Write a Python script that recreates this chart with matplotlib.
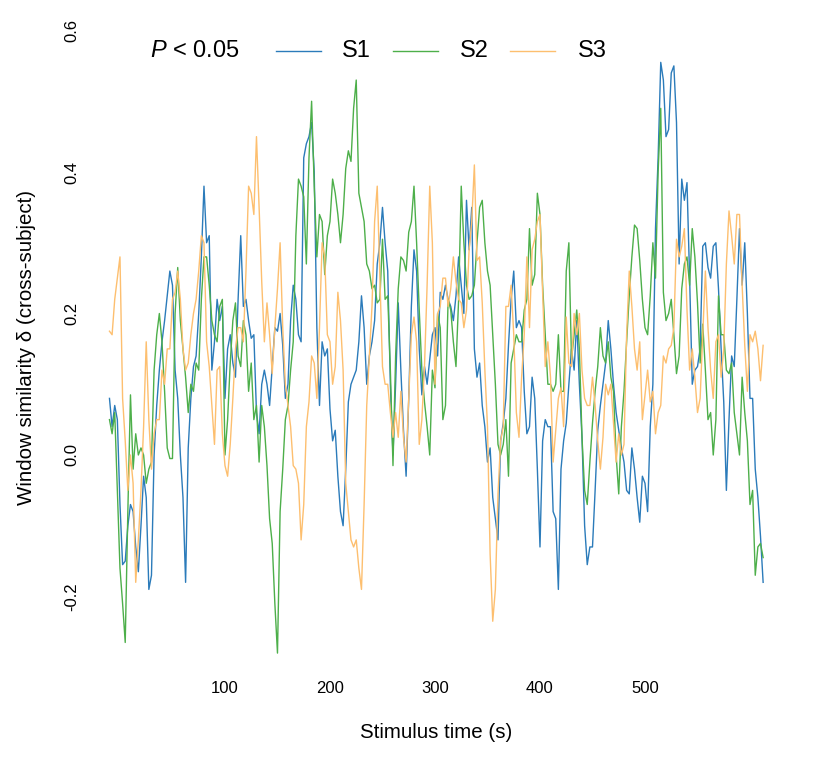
import numpy as np
import matplotlib
matplotlib.use("Agg")
import matplotlib.pyplot as plt
from matplotlib.lines import Line2D

plt.rcParams['font.family'] = ['Liberation Sans', 'DejaVu Sans']
plt.rcParams['mathtext.fontset'] = 'custom'
plt.rcParams['mathtext.it'] = 'Liberation Sans:italic'
plt.rcParams['mathtext.rm'] = 'Liberation Sans'

# window similarity per subject, every 2.5 s
s1 = [0.08, 0.04, 0.07, 0.05, -0.07, -0.155, -0.15, -0.10, -0.07, -0.08,
      -0.13, -0.165, -0.10, -0.03, -0.06, -0.19, -0.17, 0.0, 0.07, 0.12,
      0.16, 0.19, 0.225, 0.26, 0.24, 0.12, 0.08, 0.0, -0.06, -0.18,
      0.01, 0.08, 0.125, 0.14, 0.20, 0.28, 0.38, 0.30, 0.31, 0.12,
      0.16, 0.22, 0.19, 0.21, 0.08, 0.15, 0.17, 0.13, 0.11, 0.22,
      0.31, 0.21, 0.22, 0.19, 0.165, 0.17, 0.06, 0.03, 0.10, 0.12,
      0.10, 0.07, 0.125, 0.18, 0.175, 0.20, 0.155, 0.08, 0.10, 0.19,
      0.24, 0.22, 0.17, 0.16, 0.42, 0.44, 0.45, 0.47, 0.40, 0.18,
      0.07, 0.16, 0.14, 0.15, 0.065, 0.02, 0.035, -0.03, -0.08, -0.10,
      -0.02, 0.075, 0.10, 0.11, 0.12, 0.16, 0.225, 0.18, 0.10, 0.14,
      0.16, 0.19, 0.27, 0.30, 0.35, 0.30, 0.26, 0.10, 0.0, 0.10,
      0.215, 0.12, 0.035, -0.03, 0.08, 0.21, 0.29, 0.26, 0.15, 0.085,
      0.125, 0.10, 0.135, 0.17, 0.18, 0.14, 0.23, 0.22, 0.24, 0.22,
      0.21, 0.19, 0.225, 0.28, 0.24, 0.20, 0.36, 0.29, 0.35, 0.15,
      0.11, 0.13, 0.07, 0.04, -0.01, 0.01, -0.06, -0.09, -0.12, 0.02,
      0.045, 0.08, 0.155, 0.22, 0.26, 0.18, 0.19, 0.18, 0.09, 0.03,
      0.04, 0.11, 0.08, -0.02, -0.13, 0.02, 0.05, 0.04, 0.04, -0.08,
      -0.09, -0.19, -0.02, 0.02, 0.045, 0.10, 0.15, 0.12, 0.19, 0.10,
      0.025, -0.10, -0.155, -0.13, -0.13, -0.05, 0.035, 0.07, 0.10, 0.13,
      0.19, 0.15, 0.10, 0.06, 0.035, 0.01, -0.01, -0.05, -0.055, 0.01,
      -0.02, -0.06, -0.095, -0.03, -0.04, -0.08, 0.04, 0.10, 0.32, 0.42,
      0.555, 0.53, 0.45, 0.46, 0.54, 0.55, 0.47, 0.27, 0.39, 0.36,
      0.385, 0.25, 0.10, 0.12, 0.125, 0.15, 0.295, 0.30, 0.265, 0.25,
      0.295, 0.30, 0.235, 0.15, 0.075, -0.05, 0.05, 0.14, 0.125, 0.22,
      0.32, 0.24, 0.30, 0.20, 0.08, 0.08, -0.02, -0.06, -0.115, -0.18]
s2 = [0.05, 0.03, 0.06, -0.05, -0.16, -0.21, -0.265, -0.08, 0.085, -0.02,
      0.03, 0.0, 0.01, 0.0, -0.04, -0.02, -0.01, 0.12, 0.17, 0.20,
      0.16, 0.09, 0.01, -0.005, -0.005, 0.20, 0.265, 0.19, 0.15, 0.11,
      0.06, 0.10, 0.09, 0.13, 0.12, 0.22, 0.28, 0.28, 0.24, 0.19,
      0.17, 0.16, 0.21, 0.22, 0.0, 0.05, 0.13, 0.19, 0.215, 0.14,
      0.125, 0.19, 0.17, 0.09, 0.13, 0.05, 0.07, -0.01, 0.07, 0.04,
      -0.015, -0.09, -0.125, -0.21, -0.28, -0.08, -0.02, 0.05, 0.07, 0.12,
      0.16, 0.31, 0.39, 0.38, 0.365, 0.27, 0.42, 0.50, 0.38, 0.28,
      0.34, 0.33, 0.255, 0.31, 0.33, 0.39, 0.37, 0.34, 0.30, 0.34,
      0.405, 0.43, 0.415, 0.49, 0.53, 0.37, 0.35, 0.33, 0.27, 0.26,
      0.235, 0.24, 0.215, 0.22, 0.305, 0.22, 0.225, 0.12, -0.015, 0.14,
      0.235, 0.28, 0.275, 0.26, 0.315, 0.33, 0.38, 0.30, 0.205, 0.12,
      0.075, 0.04, 0.0, 0.12, 0.095, 0.20, 0.18, 0.05, 0.07, 0.22,
      0.205, 0.16, 0.125, 0.22, 0.38, 0.30, 0.24, 0.22, 0.225, 0.24,
      0.30, 0.35, 0.36, 0.30, 0.26, 0.24, 0.17, 0.10, 0.015, 0.0,
      0.015, 0.05, -0.03, 0.13, 0.15, 0.17, 0.16, 0.16, 0.205, 0.22,
      0.32, 0.24, 0.255, 0.37, 0.34, 0.24, 0.17, 0.10, 0.10, 0.09,
      0.10, 0.17, 0.09, 0.09, 0.26, 0.30, 0.135, 0.17, 0.205, 0.15,
      0.025, -0.05, -0.07, -0.01, 0.045, 0.09, 0.125, 0.18, 0.14, 0.13,
      0.16, 0.11, 0.09, 0.0, -0.055, 0.04, 0.09, 0.16, 0.225, 0.28,
      0.325, 0.32, 0.275, 0.22, 0.18, 0.17, 0.225, 0.30, 0.25, 0.40,
      0.49, 0.23, 0.19, 0.20, 0.22, 0.17, 0.115, 0.14, 0.235, 0.27,
      0.28, 0.24, 0.32, 0.28, 0.215, 0.13, 0.185, 0.12, 0.05, 0.06,
      0.0, 0.05, 0.225, 0.17, 0.17, 0.12, 0.115, 0.13, 0.06, 0.03,
      0.0, 0.11, 0.06, 0.02, -0.07, -0.05, -0.17, -0.13, -0.125, -0.145]
s3 = [0.175, 0.17, 0.22, 0.25, 0.28, 0.08, 0.02, -0.05, 0.0, -0.04,
      -0.18, -0.12, -0.05, 0.04, 0.16, 0.05, -0.02, 0.03, 0.05, 0.05,
      0.12, 0.10, 0.15, 0.15, 0.22, 0.23, 0.26, 0.22, 0.15, 0.12,
      0.13, 0.17, 0.20, 0.22, 0.26, 0.31, 0.30, 0.16, 0.125, 0.07,
      0.015, 0.12, 0.125, 0.03, -0.015, -0.03, 0.015, 0.08, 0.15, 0.18,
      0.18, 0.16, 0.26, 0.38, 0.37, 0.34, 0.45, 0.35, 0.245, 0.16,
      0.215, 0.17, 0.115, 0.18, 0.235, 0.30, 0.18, 0.10, 0.07, 0.04,
      -0.015, -0.02, -0.04, -0.12, -0.07, 0.04, 0.075, 0.14, 0.13, 0.08,
      0.18, 0.30, 0.28, 0.17, 0.16, 0.10, 0.125, 0.23, 0.19, 0.12,
      -0.04, -0.08, -0.12, -0.13, -0.12, -0.16, -0.19, -0.07, 0.07, 0.14,
      0.21, 0.33, 0.38, 0.25, 0.125, 0.10, 0.10, 0.06, 0.025, 0.06,
      0.025, 0.09, 0.025, -0.01, 0.08, 0.17, 0.195, 0.16, 0.015, 0.05,
      0.125, 0.24, 0.38, 0.30, 0.10, 0.20, 0.21, 0.25, 0.25, 0.21,
      0.235, 0.28, 0.245, 0.22, 0.215, 0.18, 0.205, 0.29, 0.33, 0.41,
      0.275, 0.28, 0.215, 0.12, 0.04, -0.14, -0.235, -0.19, -0.055, 0.02,
      0.04, 0.21, 0.21, 0.24, 0.17, 0.06, 0.025, 0.11, 0.17, 0.28,
      0.18, 0.29, 0.305, 0.33, 0.34, 0.23, 0.125, 0.16, 0.11, -0.01,
      0.035, 0.08, 0.095, 0.04, 0.195, 0.13, 0.125, 0.20, 0.17, 0.20,
      0.12, 0.08, 0.07, 0.07, 0.11, 0.07, 0.02, -0.02, 0.025, 0.10,
      0.085, 0.10, 0.045, -0.01, 0.03, 0.0, 0.015, 0.17, 0.26, 0.21,
      0.15, 0.12, 0.16, 0.05, 0.085, 0.12, 0.075, 0.09, 0.03, 0.06,
      0.07, 0.14, 0.13, 0.15, 0.155, 0.18, 0.305, 0.28, 0.295, 0.32,
      0.205, 0.12, 0.15, 0.11, 0.06, 0.08, 0.17, 0.26, 0.18, 0.12,
      0.08, 0.16, 0.17, 0.11, 0.15, 0.27, 0.345, 0.31, 0.27, 0.34,
      0.34, 0.24, 0.155, 0.09, 0.17, 0.16, 0.175, 0.15, 0.105, 0.155]
t_start, t_step = -10, 2.5
labels = ["S1", "S2", "S3"]
colors = ["#2b7bba", "#4daf4a", "#fdbf6f"]

t = t_start + t_step * np.arange(len(s1))

fig = plt.figure(figsize=(8.31, 7.65), dpi=100)
ax = fig.add_axes([0.1191, 0.1278, 0.8087, 0.8508])

for s, c in zip([s1, s2, s3], colors):
    ax.plot(t, s, color=c, lw=1.0)

ax.set_xlim(-20, 620)
ax.set_ylim(-0.30, 0.62)
ax.set_xticks([100, 200, 300, 400, 500])
ax.set_yticks([-0.2, 0.0, 0.2, 0.4, 0.6])
ax.set_yticklabels(["-0.2", "0.0", "0.2", "0.4", "0.6"])
for sp in ax.spines.values():
    sp.set_visible(False)
ax.tick_params(axis='both', length=0, labelsize=12)
ax.tick_params(axis='x', pad=10)
ax.tick_params(axis='y', pad=14)
for lab in ax.get_yticklabels():
    lab.set_rotation(90)
    lab.set_va('center')

fig.text(436 / 831, 1 - 733 / 765, "Stimulus time (s)", ha='center', va='center', fontsize=14.8)
fig.text(27 / 831, 1 - 348 / 765, "Window similarity δ (cross-subject)", ha='center', va='center',
         rotation=90, fontsize=14.8)

# legend row along the top
ly = 1 - 51 / 765
fig.text(150 / 831, ly, r"$P$ < 0.05", ha='left', va='center', fontsize=17)
for i, (lab, c) in enumerate(zip(labels, colors)):
    x0 = (276 + 117 * i) / 831
    fig.add_artist(Line2D([x0, x0 + 45 / 831], [ly, ly], color=c, lw=1.0))
    fig.text((342 + 118 * i) / 831, ly, lab, ha='left', va='center', fontsize=17)

fig.savefig("out.png", dpi=100)
